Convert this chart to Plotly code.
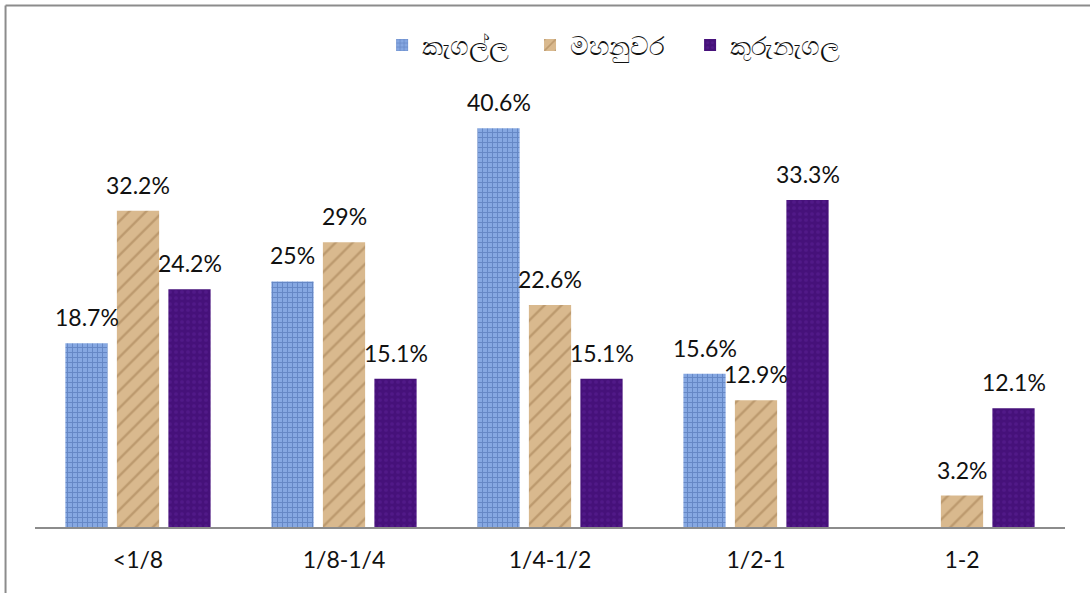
import plotly.graph_objects as go

categories = ['<1/8', '1/8-1/4', '1/4-1/2', '1/2-1', '1-2']
series_names = ['කැගල්ල', 'මහනුවර', 'කුරුනැගල']
kegalle = [18.7, 25, 40.6, 15.6, None]
mahanuwara = [32.2, 29, 22.6, 12.9, 3.2]
kurunegala = [24.2, 15.1, 15.1, 33.3, 12.1]
label_texts = [
    ['18.7%', '25%', '40.6%', '15.6%', None],
    ['32.2%', '29%', '22.6%', '12.9%', '3.2%'],
    ['24.2%', '15.1%', '15.1%', '33.3%', '12.1%'],
]

values = [kegalle, mahanuwara, kurunegala]
styles = [
    dict(color='#7fa1dc', pattern=dict(shape='+', fgcolor='#4466a8', bgcolor='#86a8e2', size=5, solidity=0.35)),
    dict(color='#d6b486', pattern=dict(shape='/', fgcolor='#a07a4e', bgcolor='#d9b98e', size=12, solidity=0.2)),
    dict(color='#4a137c', pattern=dict(shape='.', fgcolor='#5c2296', bgcolor='#46117a', size=6, solidity=0.3)),
]
x_shift = [-51.5, 0, 51.5]
# one legend box per series so the entries can sit apart like the original
legend_ids = ['legend', 'legend2', 'legend3']
legend_x = [0.337, 0.4806, 0.636]

fig = go.Figure()
for name, vals, st, lg in zip(series_names, values, styles, legend_ids):
    fig.add_trace(go.Bar(x=categories, y=vals, name=name, legend=lg,
                         marker=dict(color=st['color'], pattern=st['pattern'], line=dict(width=0))))

annotations = []
for i, vals in enumerate(values):
    for j, v in enumerate(vals):
        if v is None:
            continue
        annotations.append(dict(x=categories[j], y=v, text=label_texts[i][j], showarrow=False,
                                xshift=x_shift[i], yshift=10, yanchor='bottom',
                                font=dict(family='Lato, Open Sans, sans-serif', size=23, color='#111')))

legend_style = dict(orientation='h', xanchor='left', y=1.09, yanchor='middle',
                    font=dict(size=26, color='#111'), itemwidth=30,
                    bgcolor='rgba(0,0,0,0)')

fig.update_layout(
    width=1090, height=593,
    margin=dict(l=35, r=25, t=85, b=66),
    plot_bgcolor='white', paper_bgcolor='white',
    barmode='group', bargap=0.25, bargroupgap=0.18,
    showlegend=True,
    legend=dict(x=legend_x[0], **legend_style),
    legend2=dict(x=legend_x[1], **legend_style),
    legend3=dict(x=legend_x[2], **legend_style),
    xaxis=dict(showline=True, linecolor='#8c8c8c', linewidth=1.5, ticks='',
               tickfont=dict(family='Lato, Open Sans, sans-serif', size=23, color='#111'),
               ticklabelstandoff=12, showgrid=False),
    yaxis=dict(range=[0, 45], visible=False, showgrid=False, zeroline=False),
    annotations=annotations,
    shapes=[
        dict(type='line', xref='paper', yref='paper', x0=-0.0286, x1=-0.0286, y0=-0.2, y1=1.18,
             line=dict(color='#8c8c8c', width=2)),
        dict(type='line', xref='paper', yref='paper', x0=-0.0286, x1=1.1, y0=1.18, y1=1.18,
             line=dict(color='#8c8c8c', width=2)),
    ],
)

fig.write_html('out.html', config={'displayModeBar': False},
               post_script="document.body.style.margin='0';")
